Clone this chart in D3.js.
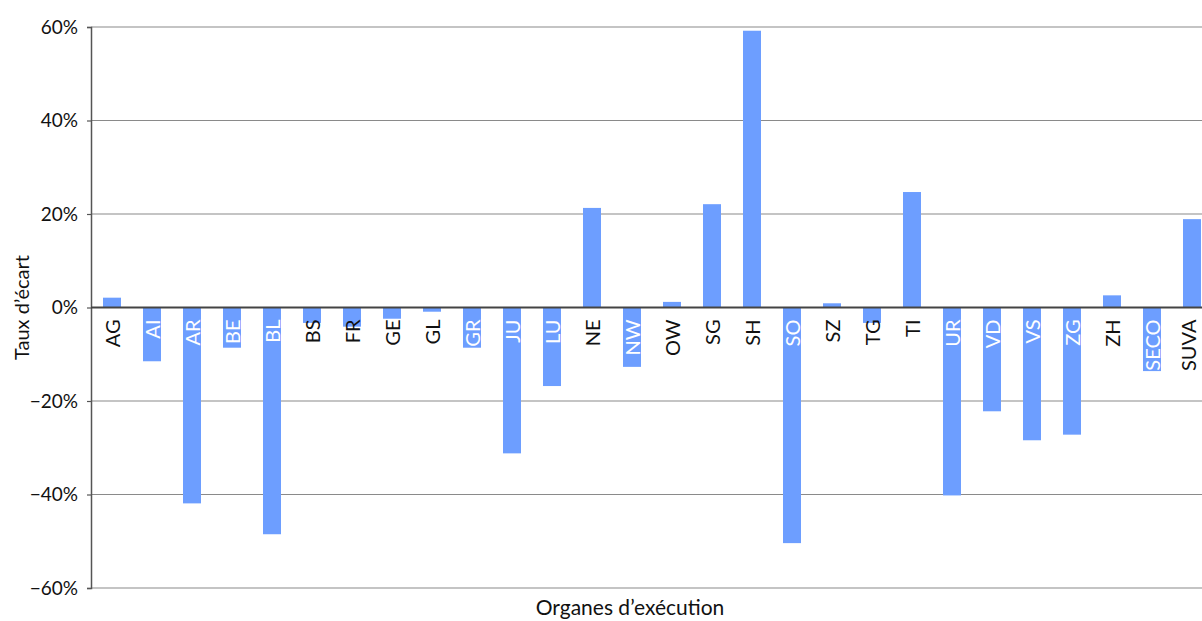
<!DOCTYPE html>
<html>
<head>
<meta charset="utf-8">
<script src="https://cdn.jsdelivr.net/npm/d3@7"></script>
<style>
  html, body { margin: 0; padding: 0; background: #fff; overflow: hidden; }
  svg { display: block; font-family: Lato, "Open Sans", sans-serif; }
</style>
</head>
<body>
<svg id="chart" width="1202" height="621"></svg>
<script>
const categories = ["AG","AI","AR","BE","BL","BS","FR","GE","GL","GR","JU","LU","NE","NW","OW","SG","SH","SO","SZ","TG","TI","UR","VD","VS","ZG","ZH","SECO","SUVA"];
const values = [2.1,-11.5,-41.9,-8.6,-48.5,-3.3,-4.1,-2.4,-0.9,-8.6,-31.2,-16.8,21.3,-12.7,1.2,22.1,59.2,-50.4,0.9,-3.3,24.7,-40.2,-22.2,-28.4,-27.2,2.6,-13.6,18.9];
const yTicks = [-60,-40,-20,0,20,40,60];
const yTitle = "Taux d\u2019\u00e9cart";
const xTitle = "Organes d\u2019ex\u00e9cution";

const svg = d3.select("#chart");
const mLeft = 91, mRight = 1212, mTop = 27, mBottom = 588;

const x = d3.scaleBand().domain(categories).range([mLeft + 1, mRight]).paddingInner(0.55).paddingOuter(0.275);
const y = d3.scaleLinear().domain([-60, 60]).range([mBottom, mTop]);

// gridlines
svg.append("g").selectAll("line").data(yTicks.filter(d => d !== 0)).join("line")
  .attr("x1", mLeft).attr("x2", 1202)
  .attr("y1", d => y(d)).attr("y2", d => y(d))
  .attr("stroke", "#8a8a8a").attr("stroke-width", 1.2);

// y axis
const yAxis = d3.axisLeft(y).tickValues(yTicks).tickSize(4).tickPadding(9)
  .tickFormat(d => (d < 0 ? "\u2212" + Math.abs(d) : d) + "%");
const ga = svg.append("g").attr("transform", `translate(${mLeft},0)`).call(yAxis);
ga.select(".domain").attr("stroke", "#555").attr("stroke-width", 1.5);
ga.selectAll(".tick line").attr("stroke", "#555").attr("stroke-width", 1.2);
ga.selectAll(".tick text").attr("font-size", 19).attr("fill", "#111")
  .attr("font-family", "Lato, 'Open Sans', sans-serif");

// bars
svg.append("g").selectAll("rect").data(categories).join("rect")
  .attr("x", d => x(d))
  .attr("width", x.bandwidth())
  .attr("y", (d, i) => y(Math.max(0, values[i])))
  .attr("height", (d, i) => Math.abs(y(values[i]) - y(0)))
  .attr("fill", "#6d9eff");

// zero line
svg.append("line").attr("x1", mLeft).attr("x2", 1202)
  .attr("y1", y(0)).attr("y2", y(0))
  .attr("stroke", "#444").attr("stroke-width", 1.8);

// category labels
const labY = y(0) + 12;
const labs = svg.append("g").selectAll("text").data(categories).join("text")
  .attr("transform", d => `translate(${Math.min(x(d) + x.bandwidth() / 2 + 8, 1196)},${labY}) rotate(-90)`)
  .attr("text-anchor", "end")
  .attr("font-size", 20)
  .text(d => d);
labs.each(function(d, i) {
  const len = this.getComputedTextLength();
  const barBottom = y(Math.min(0, values[i]));
  d3.select(this).attr("fill", barBottom > labY + len - 4 ? "#ffffff" : "#111");
});

// titles
svg.append("text")
  .attr("transform", `translate(29,${y(0)}) rotate(-90)`)
  .attr("text-anchor", "middle").attr("font-size", 20).attr("fill", "#111")
  .text(yTitle);
svg.append("text")
  .attr("x", 630).attr("y", 615)
  .attr("text-anchor", "middle").attr("font-size", 21).attr("fill", "#111")
  .text(xTitle);
</script>
</body>
</html>
